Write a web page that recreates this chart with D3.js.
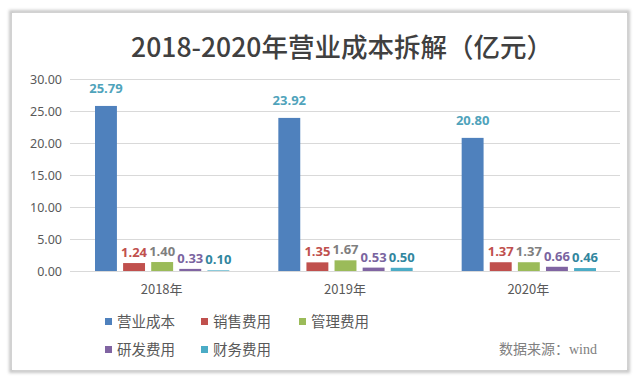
<!DOCTYPE html>
<html>
<head>
<meta charset="utf-8">
<script src="https://cdn.jsdelivr.net/npm/d3@7"></script>
<style>
  body { margin: 0; background: #fff; }
  svg { display: block; }
</style>
</head>
<body>
<div id="chart"></div>
<script>
var years = ["2018年", "2019年", "2020年"];
var seriesNames = ["营业成本", "销售费用", "管理费用", "研发费用", "财务费用"];
var yingye = [25.79, 23.92, 20.80];
var xiaoshou = [1.24, 1.35, 1.37];
var guanli = [1.40, 1.67, 1.37];
var yanfa = [0.33, 0.53, 0.66];
var caiwu = [0.10, 0.50, 0.46];
var yTicks = [0, 5, 10, 15, 20, 25, 30];

var seriesValues = [yingye, xiaoshou, guanli, yanfa, caiwu];
var barColors = ["#4f81bd", "#c0504d", "#9bbb59", "#8064a2", "#4bacc6"];
var labelColors = ["#4fa3bb", "#c0504d", "#7f7f7f", "#7a64a0", "#31869e"];

var width = 640, height = 386;
var margin = { left: 70, right: 20, top: 79, bottom: 115 };

var svg = d3.select("#chart").append("svg")
  .attr("width", width).attr("height", height);

// shadow frame
var defs = svg.append("defs");
defs.append("filter").attr("id", "blur")
  .attr("x", "-5%").attr("y", "-5%").attr("width", "110%").attr("height", "110%")
  .append("feGaussianBlur").attr("stdDeviation", 1.5);
svg.append("rect").attr("x", 11).attr("y", 12).attr("width", 617).attr("height", 359)
  .attr("fill", "none").attr("stroke", "#c8c8c8").attr("stroke-width", 4)
  .attr("filter", "url(#blur)");
svg.append("rect").attr("x", 12).attr("y", 13).attr("width", 615).attr("height", 357)
  .attr("fill", "#fff");

// title
svg.append("text")
  .attr("x", 342).attr("y", 57)
  .attr("text-anchor", "middle")
  .style("font-family", "'Noto Sans CJK SC', 'Noto Sans', sans-serif")
  .style("font-size", "26.5px")
  .style("font-weight", "500")
  .style("fill", "#404040")
  .text("2018-2020年营业成本拆解（亿元）");

var x0 = d3.scaleBand().domain(years).range([margin.left, width - margin.right]);
var x1 = d3.scaleBand().domain(seriesNames).range([25, x0.bandwidth() - 24]).paddingInner(0.22);
var y = d3.scaleLinear().domain([0, 30]).range([height - margin.bottom, margin.top]);

// gridlines
svg.append("g").selectAll("line").data(yTicks).enter().append("line")
  .attr("x1", margin.left).attr("x2", width - margin.right)
  .attr("y1", function (d) { return y(d) + 0.5; })
  .attr("y2", function (d) { return y(d) + 0.5; })
  .attr("stroke", "#d9d9d9").attr("stroke-width", 1);

// y axis labels
var yAxis = svg.append("g")
  .attr("transform", "translate(" + margin.left + ",0)")
  .call(d3.axisLeft(y).tickValues(yTicks).tickFormat(d3.format(".2f")).tickSize(0).tickPadding(8));
yAxis.select(".domain").remove();
yAxis.selectAll("text")
  .style("font-family", "'Noto Sans', sans-serif")
  .style("font-size", "12.5px")
  .style("fill", "#595959");

// x axis labels
var xAxis = svg.append("g")
  .attr("transform", "translate(0," + (height - margin.bottom) + ")")
  .call(d3.axisBottom(x0).tickSize(0).tickPadding(14));
xAxis.select(".domain").remove();
xAxis.selectAll("text")
  .style("font-family", "'Noto Sans CJK SC', 'Noto Sans', sans-serif")
  .style("font-size", "13px")
  .style("fill", "#595959");

// bars
var groups = svg.append("g").selectAll("g").data(years).enter().append("g")
  .attr("transform", function (d) { return "translate(" + x0(d) + ",0)"; });

seriesNames.forEach(function (name, s) {
  groups.append("rect")
    .attr("x", x1(name))
    .attr("width", x1.bandwidth())
    .attr("y", function (d, i) { return y(seriesValues[s][i]); })
    .attr("height", function (d, i) { return y(0) - y(seriesValues[s][i]); })
    .attr("fill", barColors[s]);

  groups.append("text")
    .attr("x", x1(name) + x1.bandwidth() / 2)
    .attr("y", function (d, i) { return y(seriesValues[s][i]) - (s == 0 ? 13 : 6); })
    .attr("text-anchor", "middle")
    .style("font-family", "'Open Sans', sans-serif")
    .style("font-size", "13px")
    .style("font-weight", "bold")
    .style("fill", labelColors[s])
    .text(function (d, i) { return seriesValues[s][i].toFixed(2); });
});

// legend
var legendPos = [[105, 322], [201, 322], [299, 322], [105, 350], [201, 350]];
var legend = svg.append("g").selectAll("g").data(seriesNames).enter().append("g")
  .attr("transform", function (d, i) { return "translate(" + legendPos[i][0] + "," + legendPos[i][1] + ")"; });
legend.append("rect")
  .attr("x", 0).attr("y", -4).attr("width", 7).attr("height", 7)
  .attr("fill", function (d, i) { return barColors[i]; });
legend.append("text")
  .attr("x", 12).attr("y", 5)
  .style("font-family", "'Noto Sans CJK SC', sans-serif")
  .style("font-size", "14.5px")
  .style("fill", "#595959")
  .text(function (d) { return d; });

// source
svg.append("text")
  .attr("x", 597).attr("y", 354)
  .attr("text-anchor", "end")
  .style("font-family", "'Liberation Serif', 'Noto Sans CJK SC', serif")
  .style("font-size", "14px")
  .style("fill", "#808080")
  .text("数据来源：wind");
</script>
</body>
</html>
